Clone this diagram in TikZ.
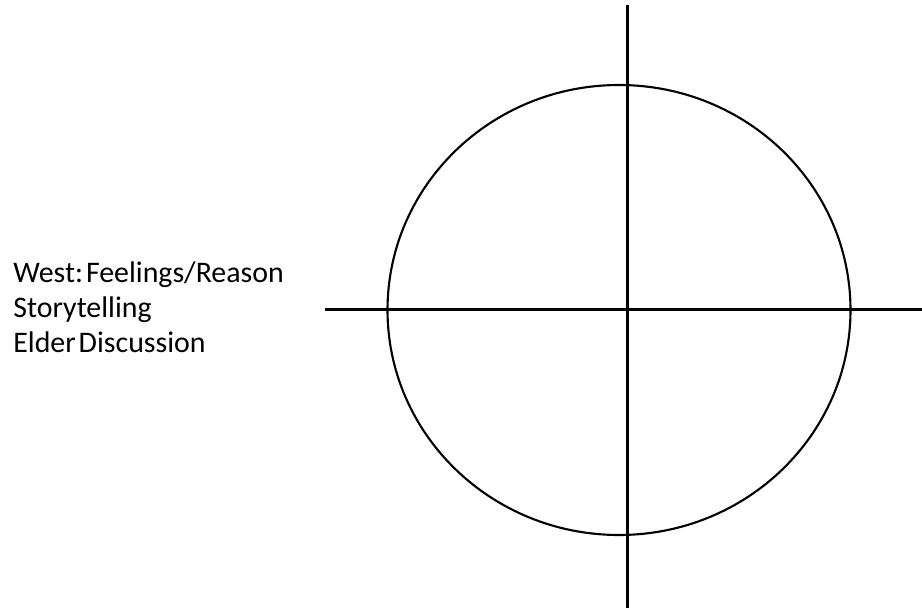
\documentclass[tikz,border=0pt]{standalone}
\usepackage{fontspec}
\setmainfont{Carlito}

\begin{document}
\begin{tikzpicture}
\useasboundingbox (0,0) rectangle (18.44,12.26);
\draw[line width=1.2pt] (12.38,6.06) ellipse (4.63 and 4.5);
\draw[line width=1.5pt] (12.55,12.16) -- (12.55,0.10);
\draw[line width=1.5pt] (6.49,6.07) -- (18.44,6.07);
\node[anchor=base west, align=left, inner sep=0pt, font=\fontsize{17pt}{19.9pt}\selectfont] (west) at (0.26,5.22) {West:\hspace{0.1em}Feelings/Reason\\Storytelling\\Elder\hspace{0.1em}Discussion};
\end{tikzpicture}
\end{document}
